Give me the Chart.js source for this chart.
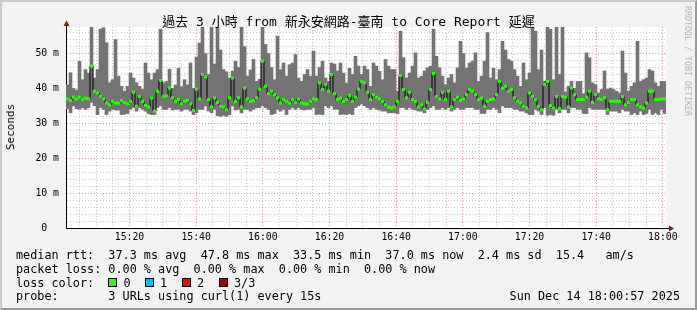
<!DOCTYPE html>
<html>
<head>
<meta charset="utf-8">
<script src="https://cdn.jsdelivr.net/npm/chart.js@4.4.1/dist/chart.umd.min.js"></script>
<style>
  html, body { margin: 0; padding: 0; }
  body { width: 697px; height: 310px; background: #f2f2f2; position: relative; overflow: hidden;
         font-family: "DejaVu Sans Mono", "Noto Sans CJK TC", monospace; color: #000; }
  #chart { position: absolute; left: 0; top: 0; }
  #frame { position: absolute; left: 0; top: 0; width: 697px; height: 310px; box-sizing: border-box;
           border-top: 2px solid #cbcbcb; border-left: 2px solid #cbcbcb;
           border-right: 2px solid #999; border-bottom: 2px solid #999; pointer-events: none; }
  .t { position: absolute; white-space: pre; }
  #title { left: 0; width: 697px; top: 12px; line-height: 19px; text-align: center; font-size: 13px; }
  #ytitle { left: 11px; top: 126.5px; font-size: 11px; line-height: 14px; transform: translate(-50%, -50%) rotate(-90deg); }
  #mark { left: 687.5px; top: 61px; font-size: 8.3px; line-height: 10px; color: #b4b4b4; transform: translate(-50%, -50%) rotate(90deg); }
  .lg { font-size: 11.8px; line-height: 14px; }
  .box { position: absolute; width: 7px; height: 7px; border: 1px solid #000; }
</style>
</head>
<body>
<canvas id="chart" width="697" height="310"></canvas>

<div class="t" id="title">過去 3 小時 from 新永安網路-臺南 to Core Report 延遲</div>
<div class="t" id="ytitle">Seconds</div>
<div class="t" id="mark">RRDTOOL / TOBI OETIKER</div>

<div class="t lg" style="left:16px;top:247.5px">median rtt:  37.3 ms avg  47.8 ms max  33.5 ms min  37.0 ms now  2.4 ms sd  15.4   am/s</div>
<div class="t lg" style="left:16px;top:261.5px">packet loss: 0.00 % avg  0.00 % max  0.00 % min  0.00 % now</div>

<div class="t lg" style="left:16px;top:275.5px">loss color:</div>
<div class="box" style="left:108px;top:278px;background:#26ff00"></div>
<div class="t lg" style="left:123.5px;top:275.5px">0</div>
<div class="box" style="left:145px;top:278px;background:#00b8ff"></div>
<div class="t lg" style="left:160px;top:275.5px">1</div>
<div class="box" style="left:182px;top:278px;background:#ff0000"></div>
<div class="t lg" style="left:197px;top:275.5px">2</div>
<div class="box" style="left:219px;top:278px;background:#a00000"></div>
<div class="t lg" style="left:234px;top:275.5px">3/3</div>

<div class="t lg" style="left:16px;top:289px">probe:       3 URLs using curl(1) every 15s</div>
<div class="t lg" style="right:17px;top:289px">Sun Dec 14 18:00:57 2025</div>

<div id="frame"></div>

<script>
// time axis in minutes after 15:00, window starts 15:00:57, one column per 54 s
const startMin = 57 / 60;
const stepMin = 0.9;
const spanMin = 180;

// smoke: lowest and highest of the 3 probes per column (ms)
const smokeMin = [
  34.2, 33.0, 35.0, 34.2, 34.0, 34.5, 34.0, 34.5, 36.0, 35.0,
  32.5, 34.5, 34.0, 32.5, 33.5, 34.0, 33.8, 33.8, 32.5, 32.6,
  32.8, 34.0, 34.5, 33.5, 34.5, 34.0, 33.5, 32.8, 32.5, 32.5,
  34.5, 35.0, 34.0, 34.0, 34.5, 33.8, 34.0, 34.0, 33.5, 34.0,
  34.0, 33.5, 32.5, 33.0, 34.0, 34.0, 35.0, 33.5, 33.0, 34.0,
  32.2, 32.0, 32.3, 32.0, 32.5, 35.0, 33.8, 34.0, 33.0, 34.0,
  34.0, 33.5, 34.0, 34.5, 34.5, 35.0, 34.5, 34.0, 32.5, 32.8,
  34.0, 33.5, 34.0, 32.5, 34.0, 34.5, 34.0, 34.5, 34.0, 33.8,
  34.0, 34.0, 34.5, 32.5, 32.6, 32.5, 35.0, 34.5, 35.0, 34.0,
  34.0, 32.5, 32.6, 32.5, 32.8, 32.5, 34.5, 35.0, 35.5, 35.0,
  34.5, 34.0, 34.5, 34.0, 33.8, 33.5, 33.5, 33.0, 33.0, 33.0,
  32.8, 34.5, 34.5, 34.0, 34.5, 34.0, 33.8, 33.5, 33.5, 33.0,
  34.0, 34.5, 35.0, 34.0, 34.0, 34.5, 34.0, 34.5, 33.5, 34.0,
  34.5, 34.0, 34.0, 34.5, 34.5, 34.5, 34.0, 34.0, 32.8, 32.8,
  34.0, 34.0, 34.5, 34.0, 33.0, 35.0, 34.5, 34.5, 34.5, 34.0,
  34.0, 33.5, 33.5, 33.0, 32.5, 32.5, 34.0, 33.5, 32.5, 34.5,
  32.3, 32.5, 32.3, 34.0, 33.0, 34.0, 34.0, 33.0, 34.5, 34.5,
  34.0, 34.0, 32.8, 32.8, 34.5, 34.0, 34.0, 34.0, 34.0, 34.0,
  32.5, 33.5, 33.5, 33.5, 33.0, 34.0, 33.5, 33.5, 32.5, 33.0,
  32.5, 33.5, 32.5, 32.8, 34.0, 32.5, 33.0, 32.5, 34.0, 32.8
];
const smokeMax = [
  41.0, 44.5, 40.0, 39.5, 47.8, 42.5, 45.4, 44.4, 57.5, 43.0,
  45.4, 57.0, 57.4, 53.1, 41.6, 42.5, 54.0, 43.5, 40.6, 39.2,
  40.6, 44.4, 43.0, 41.6, 40.6, 39.7, 47.3, 44.4, 42.5, 44.4,
  45.4, 57.0, 41.6, 42.0, 45.5, 40.0, 41.0, 45.8, 40.5, 42.5,
  41.0, 47.3, 40.0, 49.0, 53.0, 57.8, 50.0, 44.0, 57.5, 47.0,
  57.8, 51.0, 45.4, 44.8, 43.0, 45.0, 47.8, 46.0, 57.8, 52.0,
  43.5, 45.3, 48.3, 42.0, 42.6, 57.5, 52.6, 50.0, 46.0, 42.5,
  55.0, 45.4, 47.3, 43.5, 46.8, 47.3, 49.7, 43.0, 42.0, 44.0,
  45.4, 43.5, 50.7, 43.5, 46.0, 47.8, 43.0, 42.0, 47.3, 47.0,
  45.0, 47.3, 44.4, 41.5, 45.8, 44.0, 49.2, 46.4, 44.0, 46.4,
  45.4, 40.6, 47.3, 46.4, 44.9, 42.5, 48.3, 46.4, 45.4, 45.4,
  39.2, 56.4, 48.8, 43.0, 44.4, 46.4, 50.2, 43.0, 43.5, 45.0,
  45.9, 46.4, 57.0, 49.2, 45.9, 43.5, 41.1, 43.0, 44.0, 41.6,
  45.9, 53.5, 50.0, 45.8, 47.3, 47.8, 50.2, 42.0, 43.5, 47.8,
  56.0, 43.0, 45.8, 42.5, 45.4, 53.5, 51.0, 48.3, 47.8, 45.4,
  43.5, 40.6, 47.3, 42.5, 44.4, 57.8, 56.4, 45.4, 51.0, 42.0,
  57.8, 57.0, 42.5, 57.5, 44.0, 57.8, 39.0, 40.6, 42.0, 40.0,
  42.0, 42.0, 38.5, 50.2, 48.8, 41.6, 41.1, 38.7, 39.7, 45.0,
  39.7, 40.1, 39.7, 39.2, 38.7, 50.7, 44.4, 39.2, 40.6, 41.6,
  53.5, 42.0, 42.5, 43.0, 45.4, 45.0, 41.6, 40.6, 42.0, 42.0
];
// median rtt per column (ms)
const median = [
  37.0, 36.5, 37.5, 37.0, 37.5, 36.8, 37.2, 37.0, 46.4, 39.2,
  38.7, 37.7, 37.0, 35.8, 35.3, 36.3, 35.8, 35.8, 36.5, 36.0,
  35.6, 36.3, 38.9, 34.9, 37.7, 36.3, 35.1, 34.7, 37.2, 33.5,
  39.2, 42.3, 37.7, 37.9, 40.1, 37.3, 36.3, 36.8, 35.6, 36.3,
  36.6, 35.6, 33.7, 39.8, 37.0, 44.0, 43.3, 36.8, 34.7, 37.3,
  36.0, 34.9, 34.7, 33.9, 37.3, 43.0, 36.3, 37.3, 34.7, 40.1,
  37.0, 36.3, 36.5, 37.3, 39.8, 47.8, 40.6, 38.5, 39.2, 38.2,
  37.3, 35.8, 36.8, 36.3, 35.8, 36.8, 36.0, 37.0, 35.8, 35.6,
  35.6, 36.3, 37.0, 36.8, 41.6, 39.7, 41.1, 39.2, 44.0, 38.5,
  36.8, 37.2, 36.3, 36.8, 38.0, 36.3, 37.5, 39.8, 42.0, 41.6,
  38.9, 36.8, 38.2, 37.5, 37.0, 36.3, 35.3, 34.7, 34.4, 34.7,
  36.3, 43.7, 39.7, 37.3, 38.9, 36.8, 36.3, 34.7, 35.3, 34.1,
  36.0, 39.7, 44.3, 37.7, 37.0, 38.9, 36.8, 39.2, 34.7, 36.8,
  37.5, 36.6, 37.0, 38.2, 39.7, 39.2, 38.2, 36.8, 37.2, 34.9,
  36.3, 36.8, 37.0, 38.2, 42.0, 40.1, 40.6, 39.2, 39.7, 37.3,
  36.3, 35.8, 34.9, 34.4, 38.7, 37.7, 36.8, 34.9, 33.9, 41.1,
  42.0, 35.1, 34.4, 37.7, 34.2, 37.7, 37.5, 34.7, 40.1, 38.2,
  36.8, 36.8, 36.8, 37.5, 39.2, 36.0, 38.2, 37.0, 36.8, 37.3,
  33.9, 36.3, 36.3, 36.3, 36.3, 37.7, 35.3, 36.0, 36.8, 36.8,
  35.3, 34.7, 34.4, 35.8, 39.2, 39.2, 36.8, 36.8, 37.0, 37.0
];

// axes
const yMax = 57.6;
const yMinorStep = 2;
const yMajorStep = 10;
const xMinorStep = 5;
const xTickMinutes = [20, 40, 60, 80, 100, 120, 140, 160, 180];
const xTickLabels = ['15:20', '15:40', '16:00', '16:20', '16:40', '17:00', '17:20', '17:40', '18:00'];

const minorColor = '#c8c8c8';
const majorColor = '#f09090';

const xs = median.map((_, i) => startMin + (i + 0.5) * stepMin);
const smokeData = xs.map((x, i) => ({ x: x, y: [smokeMin[i], smokeMax[i]] }));
const medianData = xs.map((x, i) => ({ x: x, y: median[i] }));

const xGridValues = [];
for (let m = xMinorStep; m <= spanMin; m += xMinorStep) xGridValues.push(m);
const yGridValues = [];
for (let v = 0; v <= yMax; v += yMinorStep) yGridValues.push(v);

// white canvas behind the plot
const canvasBg = {
  id: 'canvasBg',
  beforeDraw(chart) {
    const { ctx, chartArea: a } = chart;
    ctx.save();
    ctx.fillStyle = '#ffffff';
    ctx.fillRect(a.left, a.top, a.right - a.left, a.bottom - a.top);
    ctx.restore();
  }
};

// rrdtool style axis arrows
const axisArrows = {
  id: 'axisArrows',
  afterDraw(chart) {
    const { ctx, chartArea: a } = chart;
    const lx = Math.round(a.left) + 0.5;
    const by = Math.round(a.bottom) + 0.5;
    ctx.save();
    ctx.strokeStyle = '#000';
    ctx.lineWidth = 1;
    ctx.beginPath();
    ctx.moveTo(lx, a.top + 1);
    ctx.lineTo(lx, a.top - 3);
    ctx.moveTo(a.right - 1, by);
    ctx.lineTo(a.right + 4, by);
    ctx.stroke();
    ctx.fillStyle = '#8c1414';
    ctx.beginPath();
    ctx.moveTo(lx, a.top - 6.5);
    ctx.lineTo(lx - 3, a.top - 1);
    ctx.lineTo(lx + 3, a.top - 1);
    ctx.closePath();
    ctx.fill();
    ctx.beginPath();
    ctx.moveTo(a.right + 8, by);
    ctx.lineTo(a.right + 3, by - 3);
    ctx.lineTo(a.right + 3, by + 3);
    ctx.closePath();
    ctx.fill();
    ctx.restore();
  }
};

Chart.defaults.font.family = '"DejaVu Sans Mono", monospace';
Chart.defaults.color = '#000';

new Chart(document.getElementById('chart').getContext('2d'), {
  type: 'bar',
  data: {
    datasets: [
      {
        type: 'bar',
        data: smokeData,
        backgroundColor: '#737373',
        borderWidth: 0,
        barThickness: 3,
        grouped: false,
        order: 3
      },
      {
        type: 'line',
        data: medianData,
        stepped: 'middle',
        borderColor: '#000',
        borderWidth: 1,
        pointRadius: 0,
        order: 2
      },
      {
        type: 'line',
        data: medianData,
        showLine: false,
        pointStyle: 'rect',
        pointRadius: 2.15,
        pointBackgroundColor: '#26ff00',
        pointBorderWidth: 0,
        order: 1
      }
    ]
  },
  options: {
    responsive: false,
    animation: false,
    events: [],
    layout: { padding: { left: 0, top: 27, right: 31, bottom: 62 } },
    plugins: {
      legend: { display: false },
      tooltip: { enabled: false }
    },
    scales: {
      x: {
        type: 'linear',
        min: startMin,
        max: startMin + spanMin,
        offset: false,
        afterFit: s => { s.height = 20; },
        afterBuildTicks: s => { s.ticks = xGridValues.map(v => ({ value: v })); },
        ticks: {
          autoSkip: false,
          maxRotation: 0,
          padding: 4,
          font: { size: 9.8 },
          callback: v => {
            const k = xTickMinutes.indexOf(v);
            return k >= 0 ? xTickLabels[k] : '';
          }
        },
        grid: {
          offset: false,
          drawTicks: false,
          lineWidth: 1,
          color: c => (c.tick && c.tick.value % 20 === 0) ? majorColor : minorColor
        },
        border: { color: '#000', width: 1, dash: [1, 2] }
      },
      y: {
        type: 'linear',
        min: 0,
        max: yMax,
        afterFit: s => { s.width = 66; },
        afterBuildTicks: s => { s.ticks = yGridValues.map(v => ({ value: v })); },
        ticks: {
          autoSkip: false,
          padding: 7,
          font: { size: 9.8 },
          callback: v => {
            if (v % yMajorStep !== 0) return '';
            return v === 0 ? '0  ' : v + ' m';
          }
        },
        grid: {
          drawTicks: false,
          lineWidth: 1,
          color: c => {
            if (!c.tick || c.tick.value === 0) return 'rgba(0,0,0,0)';
            return c.tick.value % yMajorStep === 0 ? majorColor : minorColor;
          }
        },
        border: { color: '#000', width: 1, dash: [1, 2] }
      }
    }
  },
  plugins: [canvasBg, axisArrows]
});
</script>
</body>
</html>
